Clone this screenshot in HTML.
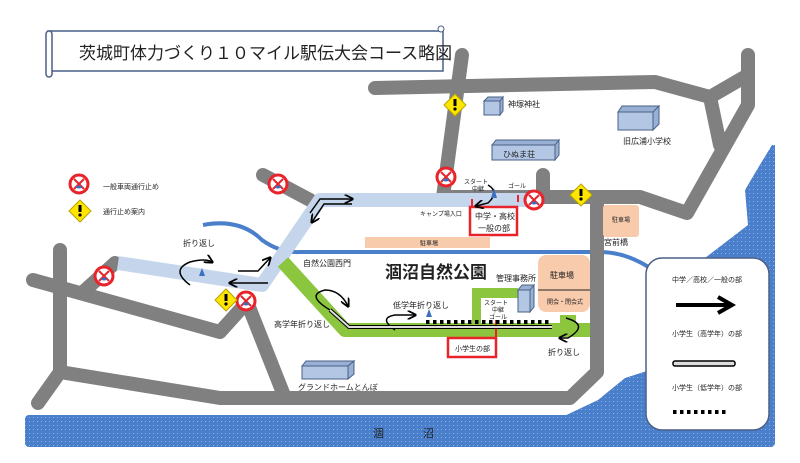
<!DOCTYPE html>
<html><head><meta charset="utf-8"><style>
html,body{margin:0;padding:0;background:#fff}
svg{display:block}
text{font-family:"Liberation Sans","Noto Sans CJK JP",sans-serif;fill:#222}
</style></head><body>
<svg width="800" height="463" viewBox="0 0 800 463" xmlns="http://www.w3.org/2000/svg">
<defs>
<pattern id="dots" width="4" height="4" patternUnits="userSpaceOnUse"><rect width="4" height="4" fill="#4a7fcb"/><rect x="1" y="1" width="1" height="1" fill="#8fb0e0"/></pattern>
<marker id="ah" markerWidth="6" markerHeight="6" refX="5" refY="3" orient="auto"><path d="M0,0 L6,3 L0,6" fill="none" stroke="#000" stroke-width="1.2"/></marker>
<g id="ne"><circle r="9" fill="#fff" stroke="#e8232a" stroke-width="3"/><path d="M-5,-5 L5,5 M5,-5 L-5,5" stroke="#e8232a" stroke-width="2"/><ellipse cy="3" rx="3" ry="1.5" fill="#3b6fbf"/></g>
<g id="dm"><path d="M0,-11 L11,0 L0,11 L-11,0Z" fill="#ffe600" stroke="#b8a400"/><rect x="-1.5" y="-6" width="3" height="7" fill="#000"/><circle cy="4" r="1.6" fill="#000"/></g>
</defs>
<!-- water -->
<rect x="25" y="415" width="750" height="32" rx="4" fill="url(#dots)"/>
<path d="M775,145 L772,145 L758,168 L745,190 L748,225 L705,258 L660,262 L650,370 L625,378 L598,400 L560,418 L775,440Z" fill="url(#dots)"/>
<!-- river -->
<path d="M203,225 Q240,218 262,240 Q280,253 300,252 L600,252 Q630,252 660,275" fill="none" stroke="#4a7fcb" stroke-width="4"/>
<!-- roads -->
<g fill="none" stroke="#808080" stroke-width="14" stroke-linecap="round" stroke-linejoin="round">
<path d="M375,88 L655,82 L710,97 L748,75"/>
<path d="M748,55 L748,105 L687,213 L640,197 L450,197"/>
<path d="M710,97 L720,145"/>
<path d="M462,55 L443,197"/>
<path d="M543,175 L543,197"/>
<path d="M597,197 L597,372 L570,398 L220,398 L60,372 L38,403"/>
<path d="M60,250 L60,372"/>
<path d="M33,280 L220,332 L247,302 L285,398"/>
<path d="M82,293 L115,263"/>
<path d="M263,175 L310,200"/>
</g>
<!-- light blue course -->
<path d="M118,263 L262,285 L320,200 L450,200" fill="none" stroke="#c5d6ec" stroke-width="14" stroke-linejoin="round"/>
<path d="M450,200 L540,200" fill="none" stroke="#c5d6ec" stroke-width="14"/>
<!-- green course -->
<path d="M283,262 L345,330 L590,330" fill="none" stroke="#8cc63f" stroke-width="14" stroke-linejoin="round"/>
<rect x="472" y="288" width="46" height="36" fill="#8cc63f"/>
<rect x="481" y="298" width="37" height="25" fill="#fff"/>
<rect x="560" y="315" width="16" height="10" fill="#8cc63f"/>
<!-- peach lots -->
<rect x="365" y="237" width="125" height="11" fill="#f8cbad"/>
<text x="420" y="245.5" font-size="6">駐車場</text>
<rect x="603" y="205" width="36" height="32" rx="3" fill="#f8cbad"/>
<text x="612" y="222" font-size="6">駐車場</text>
<rect x="538" y="255" width="52" height="57" rx="8" fill="#f8cbad"/>
<line x1="538" y1="290" x2="590" y2="290" stroke="#222"/>
<text x="550" y="278" font-size="8">駐車場</text>
<text x="547" y="304" font-size="6">開会・閉会式</text>
<!-- buildings -->
<g fill="#b3c7e4" stroke="#4a5f86" stroke-width="1">
<path d="M484,101 L500,101 L500,115 L484,115Z"/><path d="M484,101 L488,97 L503,97 L500,101Z M500,101 L503,97 L503,111 L500,115Z" fill="#98b0d4"/>
<path d="M492,145 L555,145 L555,160 L492,160Z"/><path d="M492,145 L496,140 L559,140 L555,145Z M555,145 L559,140 L559,155 L555,160Z" fill="#98b0d4"/>
<path d="M618,112 L653,112 L653,130 L618,130Z"/><path d="M618,112 L622,106 L659,106 L653,112Z M653,112 L659,106 L659,124 L653,130Z" fill="#98b0d4"/>
<path d="M302,366 L348,366 L348,379 L302,379Z"/><path d="M302,366 L306,361 L354,361 L348,366Z M348,366 L354,361 L354,374 L348,379Z" fill="#98b0d4"/>
<path d="M518,290 L530,290 L530,312 L518,312Z"/><path d="M518,290 L522,285 L534,285 L530,290Z M530,290 L534,285 L534,307 L530,312Z" fill="#98b0d4"/>
</g>
<text x="508" y="107" font-size="8">神塚神社</text>
<text x="503" y="157" font-size="8" fill="#333">ひぬま荘</text>
<text x="623" y="144" font-size="8">旧広浦小学校</text>
<text x="298" y="390" font-size="8">グランドホームとんぼ</text>
<text x="496" y="281" font-size="8">管理事務所</text>
<text x="604" y="245" font-size="8">宮前橋</text>
<text x="303" y="266" font-size="8">自然公園西門</text>
<text x="385" y="278" font-size="17" font-weight="bold">涸沼自然公園</text>
<text x="274" y="327" font-size="8">高学年折り返し</text>
<text x="393" y="308" font-size="8">低学年折り返し</text>
<text x="183" y="246" font-size="8">折り返し</text>
<text x="548" y="355" font-size="8">折り返し</text>
<text x="420" y="216" font-size="6">キャンプ場入口</text>
<text x="464" y="184" font-size="6">スタート</text>
<text x="472" y="191" font-size="6">中継</text>
<text x="508" y="188" font-size="6">ゴール</text>
<text x="484" y="305" font-size="6">スタート</text>
<text x="492" y="312" font-size="6">中継</text>
<text x="489" y="319" font-size="6">ゴール</text>
<text x="373" y="437" font-size="11">涸</text>
<text x="423" y="437" font-size="11">沼</text>
<!-- red boxes -->
<rect x="470" y="207" width="47" height="28" fill="#fff" stroke="#e8232a" stroke-width="2.5"/>
<text x="475" y="219" font-size="8">中学・高校</text>
<text x="478" y="231" font-size="8">一般の部</text>
<rect x="448" y="338" width="48" height="19" fill="#fff" stroke="#e8232a" stroke-width="2.5"/>
<text x="455" y="351" font-size="7">小学生の部</text>
<line x1="496" y1="320" x2="496" y2="338" stroke="#e8232a" stroke-width="2"/>
<line x1="472" y1="199" x2="472" y2="207" stroke="#e8232a" stroke-width="2"/>
<line x1="518" y1="195" x2="518" y2="202" stroke="#e8232a" stroke-width="2"/>
<!-- course lines -->
<g fill="none" stroke="#000" stroke-width="1.5">
<path d="M310,213 L320,199 L352,199" marker-end="url(#ah)"/>
<path d="M352,204 L324,204 L312,222" marker-end="url(#ah)"/>
<path d="M238,271 L258,271 L270,258" marker-end="url(#ah)"/>
<path d="M268,283 L230,283" marker-end="url(#ah)"/>
<path d="M190,285 Q170,270 190,262 Q205,258 212,262" marker-end="url(#ah)"/>
<path d="M488,185 Q500,192 488,203 L476,206" marker-end="url(#ah)"/>
<path d="M330,310 Q305,295 325,290 Q340,290 348,306" marker-end="url(#ah)"/>
<path d="M395,330 Q378,318 395,315 L415,315" marker-end="url(#ah)"/>
<path d="M566,318 Q590,325 568,338 L560,338" marker-end="url(#ah)"/>
</g>
<path d="M330,310 L349,327 L552,327" fill="none" stroke="#000" stroke-width="4"/>
<path d="M330,310 L349,327 L552,327" fill="none" stroke="#ddd" stroke-width="2"/>
<path d="M426,322 L550,322" stroke="#000" stroke-width="4" stroke-dasharray="3.5,3.5"/>
<path d="M199,276 L202,268 L205,276Z M426,317 L429,309 L432,317Z M491,198 L494,188 L497,198Z" fill="#3b6fbf"/>
<!-- signs -->
<use href="#ne" x="446" y="177"/><use href="#ne" x="278" y="184"/><use href="#ne" x="104" y="276"/><use href="#ne" x="246" y="301"/><use href="#ne" x="534" y="200"/><use href="#ne" x="79" y="184"/>
<use href="#dm" x="455" y="105"/><use href="#dm" x="581" y="195"/><use href="#dm" x="226" y="300"/><use href="#dm" x="80" y="211"/>
<text x="103" y="189" font-size="7">一般車両通行止め</text>
<text x="103" y="214" font-size="7">通行止め案内</text>
<!-- legend -->
<rect x="646" y="258" width="123" height="172" rx="16" fill="#fff" stroke="#4a5f86" stroke-width="1.5"/>
<text x="672" y="282" font-size="7">中学／高校／一般の部</text>
<path d="M676,305 L728,305" stroke="#000" stroke-width="4"/><path d="M718,297 L732,305 L718,313" fill="none" stroke="#000" stroke-width="4"/>
<text x="672" y="336" font-size="7">小学生（高学年）の部</text>
<rect x="673" y="361" width="62" height="5" rx="2" fill="#ddd" stroke="#000" stroke-width="1.5"/>
<text x="672" y="390" font-size="7">小学生（低学年）の部</text>
<path d="M673,412 L726,412" stroke="#000" stroke-width="4" stroke-dasharray="3.5,3.5"/>
<!-- title -->
<rect x="48" y="31" width="395" height="40" fill="#fff" stroke="#4a5f86" stroke-width="1.5"/>
<rect x="46" y="31" width="6" height="46" rx="3" fill="#fff" stroke="#4a5f86" stroke-width="1.5"/>
<circle cx="441" cy="29" r="3" fill="#fff" stroke="#4a5f86"/>
<text x="79" y="59" font-size="17">茨城町体力づくり１０マイル駅伝大会コース略図</text>
</svg>
</body></html>
